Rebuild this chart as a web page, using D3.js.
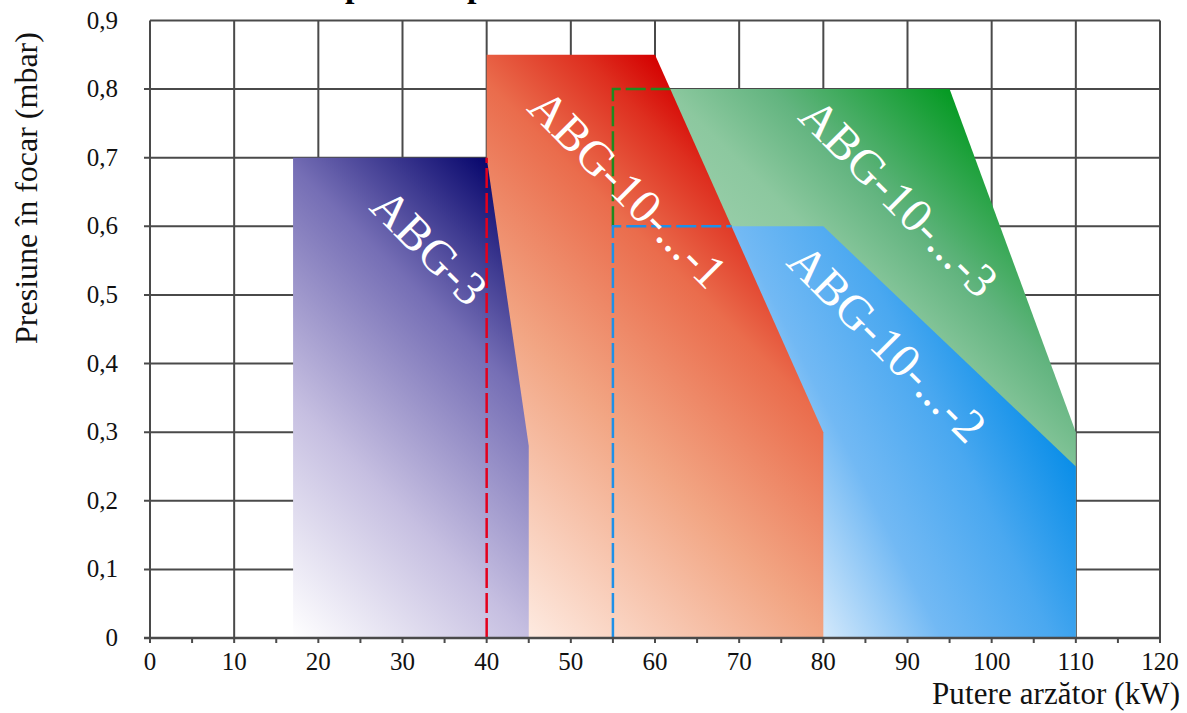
<!DOCTYPE html>
<html>
<head>
<meta charset="utf-8">
<script src="https://cdn.jsdelivr.net/npm/d3@7/dist/d3.min.js"></script>
<style>
  body { margin: 0; background: #fff; }
  svg { display: block; font-family: "Liberation Serif", "Times New Roman", serif; }
</style>
</head>
<body>
<div id="chart"></div>
<script>
// operating fields, [power kW, pressure mbar]
const abg3 = [[17, 0], [17, 0.7], [40, 0.7], [45, 0.28], [45, 0]];
const abg10_1 = [[40, 0], [40, 0.85], [60, 0.85], [80, 0.3], [80, 0]];
const abg10_2 = [[55, 0], [55, 0.6], [80, 0.6], [110, 0.25], [110, 0]];
const abg10_3 = [[55, 0], [55, 0.8], [95, 0.8], [110, 0.3], [110, 0]];

// hidden edges shown dashed
const edge1 = [[40, 0], [40, 0.7]];
const edge3 = [[55, 0.6], [55, 0.8], [61.8, 0.8]];
const edge2 = [[55, 0], [55, 0.6], [69.1, 0.6]];

const xTicks = d3.range(0, 121, 10);
const xMinor = d3.range(0, 121, 5);
const yTicks = [0, 0.1, 0.2, 0.3, 0.4, 0.5, 0.6, 0.7, 0.8, 0.9];
const yTickLabels = ['0', '0,1', '0,2', '0,3', '0,4', '0,5', '0,6', '0,7', '0,8', '0,9'];

const labels = [
  { text: 'ABG-3', x: 33.2, y: 0.57 },
  { text: 'ABG-10-...-1', x: 56.8, y: 0.655 },
  { text: 'ABG-10-...-3', x: 89.0, y: 0.642 },
  { text: 'ABG-10-...-2', x: 87.6, y: 0.43 }
];

const width = 1187, height = 713;
const margin = { top: 20.5, right: 27, bottom: 75, left: 150 };

const svg = d3.select('#chart').append('svg')
  .attr('width', width)
  .attr('height', height);

const x = d3.scaleLinear().domain([0, 120]).range([margin.left, width - margin.right]);
const y = d3.scaleLinear().domain([0, 0.9]).range([height - margin.bottom, margin.top]);

// gradients: light at bottom-left, dark toward the top-right corner
const defs = svg.append('defs');
function addGrad(id, pts, dir, stops) {
  const len = Math.hypot(dir[0], dir[1]);
  const n = [dir[0] / len, dir[1] / len];
  const P = pts.map(p => [x(p[0]), y(p[1])]);
  const s = P.map(p => p[0] * n[0] + p[1] * n[1]);
  const lo = d3.minIndex(s), span = d3.max(s) - d3.min(s);
  const g = defs.append('linearGradient').attr('id', 'g-' + id)
    .attr('gradientUnits', 'userSpaceOnUse')
    .attr('x1', P[lo][0]).attr('y1', P[lo][1])
    .attr('x2', P[lo][0] + n[0] * span).attr('y2', P[lo][1] + n[1] * span);
  stops.forEach(([o, c]) => g.append('stop').attr('offset', o).attr('stop-color', c));
}
addGrad('purple', abg3, [1, -1], [[0, '#ffffff'], [0.35, '#c6bfe1'], [0.7, '#756eb5'], [1, '#07066c']]);
addGrad('red', abg10_1, [1, -1], [[0, '#fff4ee'], [0.45, '#f2a684'], [0.74, '#ea6c4c'], [0.9, '#de3020'], [1, '#d40000']]);
addGrad('green', abg10_3, [1, -1], [[0, '#dcefe2'], [0.68, '#8cc89f'], [0.8, '#62b47f'], [1, '#049a22']]);
addGrad('blue', abg10_2, [1, -0.5], [[0, '#f4faff'], [0.38, '#d4e9fb'], [0.6, '#72b9f4'], [0.8, '#4aa8f0'], [1, '#0a8ee8']]);

// title (cut off at top)
const title = svg.append('text')
  .attr('y', -3)
  .attr('font-weight', 'bold')
  .attr('font-size', 34)
  .text('Domenii de lucru putere - presiune');
const pre = title.node().getSubStringLength(0, 17);
title.attr('x', 345 - pre);

// grid
const gridColor = '#4a4a4a';
svg.append('g').selectAll('line').data(yTicks).join('line')
  .attr('x1', d => d === 0.9 ? x(0) : x(0) - 6).attr('x2', x(120))
  .attr('y1', d => y(d)).attr('y2', d => y(d))
  .attr('stroke', gridColor).attr('stroke-width', 2);
svg.append('g').selectAll('line').data(xTicks).join('line')
  .attr('x1', d => x(d)).attr('x2', d => x(d))
  .attr('y1', y(0)).attr('y2', y(0.9))
  .attr('stroke', gridColor).attr('stroke-width', 2);

// areas
const line = d3.line().x(d => x(d[0])).y(d => y(d[1]));
const areas = [[abg10_3, 'green'], [abg10_2, 'blue'], [abg10_1, 'red'], [abg3, 'purple']];
areas.forEach(([pts, id]) => {
  svg.append('path')
    .attr('d', line(pts) + 'Z')
    .attr('fill', `url(#g-${id})`);
});

// dashed edges
[[edge1, '#e4001c'], [edge3, '#1f8a1f'], [edge2, '#1e90e8']].forEach(([pts, c]) => {
  svg.append('path')
    .attr('d', line(pts))
    .attr('fill', 'none')
    .attr('stroke', c)
    .attr('stroke-width', 2.5)
    .attr('stroke-dasharray', '20,5');
});

// axes
svg.append('line')
  .attr('x1', x(0) - 6).attr('x2', x(120))
  .attr('y1', y(0)).attr('y2', y(0))
  .attr('stroke', gridColor).attr('stroke-width', 2.5);
svg.append('g').selectAll('line').data(xMinor).join('line')
  .attr('x1', d => x(d)).attr('x2', d => x(d))
  .attr('y1', y(0)).attr('y2', y(0) + 5)
  .attr('stroke', gridColor).attr('stroke-width', 2);

svg.append('g').selectAll('text').data(xTicks).join('text')
  .attr('x', d => x(d)).attr('y', y(0) + 32)
  .attr('text-anchor', 'middle')
  .attr('font-size', 25)
  .attr('fill', '#111')
  .text(d => d);

svg.append('g').selectAll('text').data(yTicks).join('text')
  .attr('x', 118).attr('y', d => y(d) + 8)
  .attr('text-anchor', 'end')
  .attr('font-size', 25)
  .attr('fill', '#111')
  .text((d, i) => yTickLabels[i]);

svg.append('text')
  .attr('x', 1180).attr('y', 704)
  .attr('text-anchor', 'end')
  .attr('font-size', 31)
  .attr('textLength', 248)
  .attr('fill', '#111')
  .text('Putere arzător (kW)');

svg.append('text')
  .attr('transform', 'translate(37,188) rotate(-90)')
  .attr('text-anchor', 'middle')
  .attr('font-size', 32)
  .attr('fill', '#111')
  .text('Presiune în focar (mbar)');

// area labels
svg.append('g').selectAll('text').data(labels).join('text')
  .attr('transform', d => `translate(${x(d.x)},${y(d.y)}) rotate(45)`)
  .attr('text-anchor', 'middle')
  .attr('dominant-baseline', 'central')
  .attr('font-size', 48)
  .attr('fill', '#fff')
  .text(d => d.text);
</script>
</body>
</html>
